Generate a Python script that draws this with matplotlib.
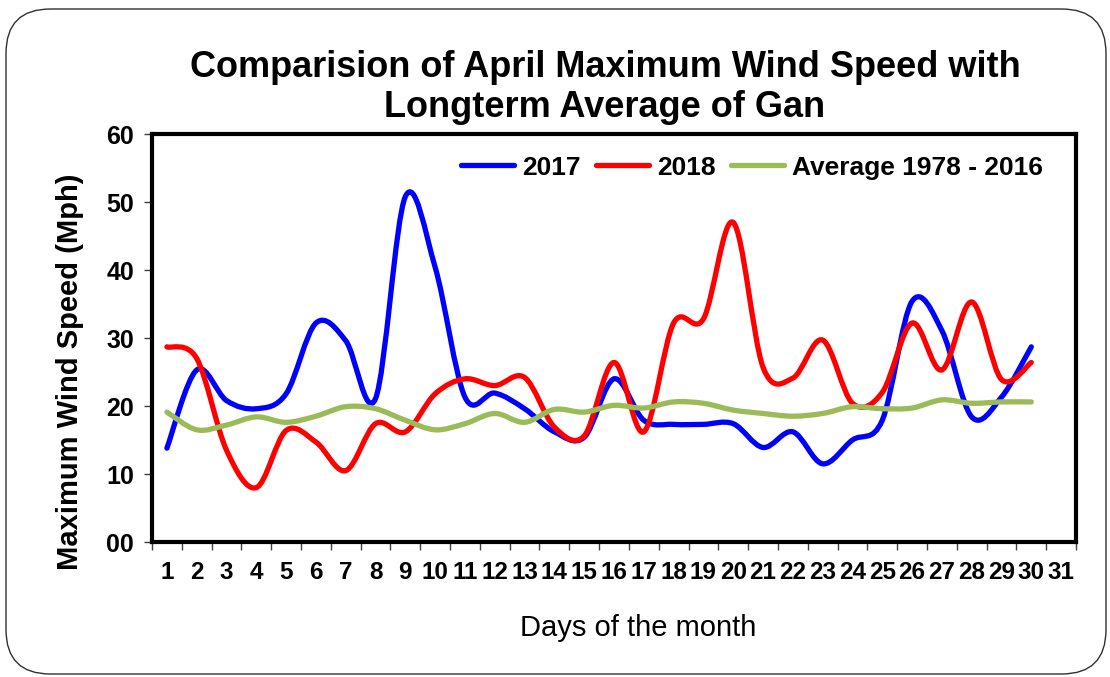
import numpy as np
import matplotlib
matplotlib.use("Agg")
import matplotlib.pyplot as plt
from matplotlib.path import Path
from matplotlib.patches import PathPatch, FancyBboxPatch
from matplotlib.lines import Line2D

plt.rcParams['font.family'] = ['Liberation Sans', 'DejaVu Sans']

# data
days = list(range(1, 31))
tick_labels = [str(d) for d in range(1, 32)]
wind_2017 = [13.8, 25.3, 20.8, 19.6, 21.8, 32.2, 29.6, 21.1, 50.8, 40.4,
             21.3, 21.9, 19.6, 16.2, 15.4, 24.0, 17.9, 17.3, 17.3, 17.4,
             13.9, 16.2, 11.5, 15.0, 17.9, 35.4, 31.1, 18.4, 21.3, 28.7]
wind_2018 = [28.7, 27.0, 13.5, 8.0, 16.4, 14.7, 10.5, 17.4, 16.2, 21.8,
             24.0, 23.0, 24.2, 16.9, 15.6, 26.4, 16.2, 32.2, 32.8, 47.0,
             25.7, 24.1, 29.7, 20.4, 22.0, 32.2, 25.3, 35.3, 23.9, 26.4]
wind_avg = [19.1, 16.5, 17.2, 18.4, 17.6, 18.5, 19.9, 19.6, 17.9, 16.5,
            17.4, 18.9, 17.6, 19.5, 19.1, 20.1, 19.7, 20.6, 20.4, 19.4,
            18.9, 18.5, 18.9, 19.9, 19.6, 19.7, 20.9, 20.4, 20.6, 20.6]
series_names = ['2017', '2018', 'Average 1978 - 2016']
series_colors = ['#0000FF', '#FF0000', '#9BBB59']


def smooth_path(x, y):
    # excel style smoothed line: cubic bezier through every point
    p = np.column_stack([x, y]).astype(float)
    n = len(p)
    verts = [p[0]]
    codes = [Path.MOVETO]
    for i in range(n - 1):
        p0 = p[i - 1] if i > 0 else p[i]
        p3 = p[i + 2] if i + 2 < n else p[i + 1]
        c1 = p[i] + (p[i + 1] - p0) / 6.0
        c2 = p[i + 1] - (p3 - p[i]) / 6.0
        verts += [c1, c2, p[i + 1]]
        codes += [Path.CURVE4] * 3
    return Path(verts, codes)


fig = plt.figure(figsize=(11.1, 6.77), dpi=100)
ax = fig.add_axes([152 / 1110, 1 - 542 / 677, 924 / 1110, 408 / 677])

handles = []
for vals, name, col in zip([wind_2017, wind_2018, wind_avg], series_names, series_colors):
    patch = PathPatch(smooth_path(days, vals), facecolor='none', edgecolor=col,
                      lw=3.8, capstyle='round', joinstyle='round', zorder=3)
    ax.add_patch(patch)
    handles.append(Line2D([], [], color=col, lw=3.8, solid_capstyle='round', label=name))

ax.set_xlim(0.5, 31.5)
ax.set_ylim(0, 60)

# ticks between categories, labels at centres
ax.set_xticks(np.arange(0.5, 32, 1))
ax.set_xticklabels([])
ax.set_xticks(np.arange(1, 32), minor=True)
ax.set_xticklabels(tick_labels, minor=True, fontsize=17.5, fontweight='bold')
ax.tick_params(axis='x', which='major', direction='out', length=6, width=1, color='#404040')
ax.tick_params(axis='x', which='minor', length=0, pad=14)
ax.set_yticks(np.arange(0, 61, 10))
ax.set_yticklabels(['%02d' % v for v in range(0, 61, 10)], fontsize=18, fontweight='bold')
ax.tick_params(axis='y', direction='out', length=6, width=1, color='#404040', pad=7)

for sp in ax.spines.values():
    sp.set_linewidth(3)
    sp.set_color('black')

ax.legend(handles=handles, loc='upper right', bbox_to_anchor=(0.99, 1.005), ncol=3,
          frameon=False, prop={'size': 19, 'weight': 'bold'}, handlelength=2.0,
          handletextpad=0.3, columnspacing=0.6)

fig.text(605 / 1110, 1 - 77 / 677, 'Comparision of April Maximum Wind Speed with',
         ha='center', va='baseline', fontsize=26, fontweight='bold')
fig.text(605 / 1110, 1 - 117 / 677, 'Longterm Average of Gan',
         ha='center', va='baseline', fontsize=26, fontweight='bold')
fig.text(638 / 1110, 1 - 628 / 677, 'Days of the month', ha='center', va='center', fontsize=21)
fig.text(70 / 1110, 1 - 372 / 677, 'Maximum Wind Speed (Mph)', ha='center', va='center',
         rotation=90, fontsize=21, fontweight='bold')

# rounded outer border
fig.patches.append(FancyBboxPatch((6 / 1110, 3 / 677), 1100 / 1110, 665 / 677,
                                  boxstyle='round,pad=0,rounding_size=0.04',
                                  transform=fig.transFigure, facecolor='none',
                                  edgecolor='#303030', lw=1, mutation_aspect=1110 / 677))

fig.savefig('out.png', dpi=100)
